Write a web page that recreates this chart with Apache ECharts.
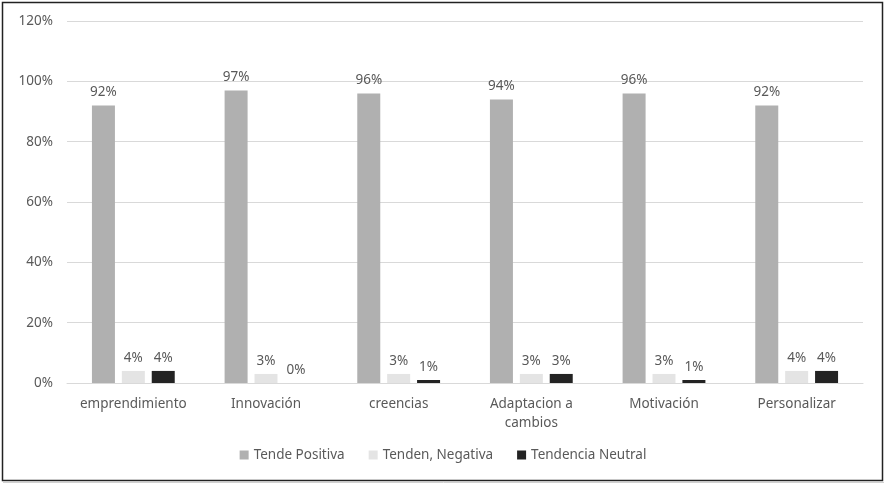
<!DOCTYPE html>
<html><head><meta charset="utf-8">
<script src="https://cdn.jsdelivr.net/npm/echarts@6/dist/echarts.min.js"></script>
<style>html,body{margin:0;padding:0;background:#fff}#c{width:886px;height:484px}</style>
</head><body><div id="c"></div>
<script>
const categories = ['emprendimiento','Innovación','creencias','Adaptacion a\ncambios','Motivación','Personalizar'];
const positiva = [92,97,96,94,96,92];
const negativa = [4,3,3,3,3,4];
const neutral = [4,0,1,3,1,4];
const yTicks = [0,20,40,60,80,100,120];

const font = 'Noto Sans';
const txt = '#595959';
const chart = echarts.init(document.getElementById('c'));
function s(name, data, color){
  return {name, type:'bar', data, barWidth:23, barGap:'30%',
    itemStyle:{color},
    label:{show:true, position:'top', formatter:'{c}%', color:txt, fontFamily:font, fontSize:13.5, distance:6}};
}
chart.setOption({
  animation:false,
  textStyle:{fontFamily:font},
  graphic:[
    {type:'rect', shape:{x:2.5,y:2.5,width:880,height:478}, style:{fill:null, stroke:'#222', lineWidth:1.5}, z:-1},
    {type:'line', shape:{x1:3,y1:482.5,x2:884,y2:482.5}, style:{stroke:'#d0d0d0', lineWidth:1}, z:-1}
  ],
  grid:{left:67, right:23, top:21, bottom:101, containLabel:false},
  legend:{bottom:17, left:'center', itemWidth:9, itemHeight:9, itemGap:24,
    icon:'rect', textStyle:{color:txt, fontSize:13.5, fontFamily:font}},
  xAxis:{type:'category', data:categories,
    axisLine:{lineStyle:{color:'#d9d9d9'}}, axisTick:{show:false},
    axisLabel:{color:txt, fontSize:13.5, fontFamily:font, margin:12, lineHeight:19, interval:0}},
  yAxis:{type:'value', min:0, max:120, interval:20,
    axisLabel:{color:txt, fontSize:13.5, fontFamily:font, margin:14, formatter: v => yTicks.includes(v) ? v+'%' : ''},
    splitLine:{lineStyle:{color:'#d9d9d9'}}, axisLine:{show:false}, axisTick:{show:false}},
  series:[s('Tende Positiva', positiva, '#b0b0b0'), s('Tenden, Negativa', negativa, '#e4e4e4'), s('Tendencia Neutral', neutral, '#232323')]
});
</script></body></html>
